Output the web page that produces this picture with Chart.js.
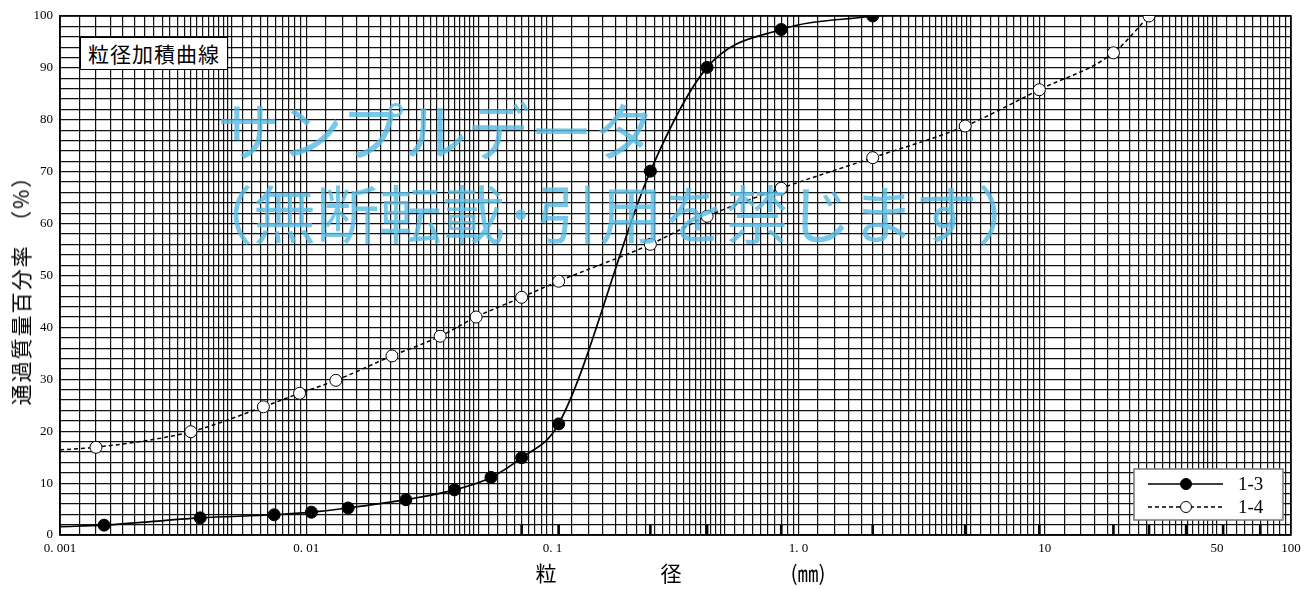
<!DOCTYPE html>
<html>
<head>
<meta charset="utf-8">
<script src="https://cdn.jsdelivr.net/npm/chart.js@4.4.0/dist/chart.umd.min.js"></script>
<style>
  html, body { margin: 0; padding: 0; background: #fff; }
  #wrap { position: relative; width: 1314px; height: 589px; overflow: hidden; }
  #grading { position: absolute; left: 0; top: 0; }
  .txt { position: absolute; white-space: nowrap; color: #000; font-family: "Noto Sans CJK JP", sans-serif; }
  #titleBox { left: 80px; top: 37px; width: 146px; height: 31px; border: 1px solid #000; background: #fff;
              font-size: 21px; line-height: 31px; text-align: center; letter-spacing: 1px; }
  #yTitle { left: 20px; top: 285px; font-size: 21px; letter-spacing: 2px; transform: translate(-50%, -50%) rotate(-90deg); }
  .xTitle { top: 560px; font-size: 21px; line-height: 24px; transform: translateX(-50%); }
  .mark { color: rgba(86, 186, 228, 0.8); font-size: 63px; line-height: 70px; pointer-events: none; }
</style>
</head>
<body>
<div id="wrap">
  <canvas id="grading" width="1314" height="589"></canvas>
  <div class="txt" id="titleBox">粒径加積曲線</div>
  <div class="txt" id="yTitle">通過質量百分率　（%）</div>
  <div class="txt xTitle" style="left:546px">粒</div>
  <div class="txt xTitle" style="left:671px">径</div>
  <div class="txt xTitle" style="left:808px">(㎜)</div>
  <div class="txt mark" style="left:217px; top:93px">サンプルデータ</div>
  <div class="txt mark" style="left:190px; top:176px">（無断転載･引用を禁じます）</div>
</div>
<script>
// sample 1-3 (first entry = where the curve leaves the left edge, no marker)
var sizes13 = [0.001, 0.00151, 0.00371, 0.00741, 0.0105, 0.0148, 0.0254, 0.0400, 0.0563, 0.075, 0.106, 0.25, 0.425, 0.85, 2.0];
var pass13  = [1.6, 1.9, 3.3, 3.9, 4.4, 5.2, 6.8, 8.7, 11.1, 14.9, 21.4, 70.1, 90.1, 97.4, 100];
// sample 1-4
var sizes14 = [0.001, 0.0014, 0.0034, 0.0067, 0.0094, 0.0132, 0.0223, 0.035, 0.049, 0.075, 0.106, 0.25, 0.425, 0.85, 2.0, 4.75, 9.5, 19, 26.5];
var pass14  = [16.4, 16.9, 19.9, 24.7, 27.3, 29.8, 34.5, 38.3, 42.0, 45.8, 48.9, 56.0, 61.4, 66.8, 72.7, 78.8, 85.8, 92.9, 100];
var seriesNames = ['1-3', '1-4'];

// sieve openings (mm), marked at the bottom of the grid
var sieves = [0.075, 0.106, 0.25, 0.425, 0.85, 2, 4.75, 9.5, 19, 26.5, 37.5, 53, 75];

// labelled x ticks
var xLabelValues = [0.001, 0.01, 0.1, 1, 10, 50, 100];
var xLabelTexts  = ['0. 001', '0. 01', '0. 1', '1. 0', '10', '50', '100'];

// grid lines in each decade: every 0.2 up to 5, then every 0.5
var gridMantissa = [];
for (var m = 10; m < 50; m += 2) gridMantissa.push(m / 10);
for (var m = 50; m < 100; m += 5) gridMantissa.push(m / 10);

function buildLogTicks() {
    var out = [];
    for (var e = -3; e <= 1; e++) {
        gridMantissa.forEach(function (mm) {
            out.push({ value: parseFloat((mm * Math.pow(10, e)).toPrecision(6)) });
        });
    }
    out.push({ value: 100 });
    return out;
}

function toPoints(xs, ys) {
    return xs.map(function (x, i) { return { x: x, y: ys[i] }; });
}

var extras = {
    id: 'extras',
    beforeDatasetsDraw: function (chart) {
        var c = chart.ctx, xs = chart.scales.x, a = chart.chartArea;
        c.save();
        c.strokeStyle = '#000';
        c.lineWidth = 2.6;
        sieves.forEach(function (s) {
            var px = xs.getPixelForValue(s);
            c.beginPath();
            c.moveTo(px, a.bottom - 10);
            c.lineTo(px, a.bottom);
            c.stroke();
        });
        c.lineWidth = 1.5;
        c.strokeRect(a.left, a.top, a.right - a.left, a.bottom - a.top);
        c.restore();
    },
    afterDatasetsDraw: function (chart) {
        var c = chart.ctx, a = chart.chartArea;
        var bx = a.right - 157, by = a.bottom - 66, bw = 149, bh = 51;
        c.save();
        c.fillStyle = '#fff';
        c.fillRect(bx, by, bw, bh);
        c.strokeStyle = '#777';
        c.lineWidth = 1.5;
        c.strokeRect(bx, by, bw, bh);
        chart.data.datasets.forEach(function (ds, i) {
            var ly = by + 15 + i * 23;
            c.strokeStyle = '#000';
            c.lineWidth = ds.borderWidth;
            c.setLineDash(ds.borderDash || []);
            c.beginPath();
            c.moveTo(bx + 14, ly);
            c.lineTo(bx + 89, ly);
            c.stroke();
            c.setLineDash([]);
            c.beginPath();
            c.arc(bx + 52, ly, 5.5, 0, Math.PI * 2);
            c.fillStyle = ds.pointBackgroundColor;
            c.fill();
            c.lineWidth = 1;
            c.stroke();
            c.fillStyle = '#000';
            c.font = '19px "Liberation Serif"';
            c.textBaseline = 'middle';
            c.fillText(ds.label, bx + 104, ly + 1);
        });
        c.restore();
    }
};

var config = {
    type: 'line',
    data: {
        datasets: [
            {
                label: seriesNames[0],
                data: toPoints(sizes13, pass13),
                borderColor: '#000',
                borderWidth: 1.7,
                pointRadius: function (ctx) { return ctx.dataIndex === 0 ? 0 : 6; },
                pointBackgroundColor: '#000',
                pointBorderColor: '#000',
                pointBorderWidth: 1,
                cubicInterpolationMode: 'monotone',
                fill: false
            },
            {
                label: seriesNames[1],
                data: toPoints(sizes14, pass14),
                borderColor: '#000',
                borderWidth: 1.5,
                borderDash: [4, 3],
                pointRadius: function (ctx) { return ctx.dataIndex === 0 ? 0 : 6; },
                pointBackgroundColor: '#fff',
                pointBorderColor: '#000',
                pointBorderWidth: 1,
                cubicInterpolationMode: 'monotone',
                fill: false
            }
        ]
    },
    options: {
        responsive: false,
        animation: false,
        devicePixelRatio: 1,
        layout: { padding: { left: 0, right: 23, top: 16, bottom: 0 } },
        plugins: {
            legend: { display: false },
            tooltip: { enabled: false }
        },
        scales: {
            x: {
                type: 'logarithmic',
                min: 0.001,
                max: 100,
                afterBuildTicks: function (scale) { scale.ticks = buildLogTicks(); },
                afterFit: function (scale) { scale.height = 54; },
                grid: { color: '#111', lineWidth: 1.2, drawTicks: false },
                border: { color: '#000', width: 1.5 },
                ticks: {
                    autoSkip: false,
                    maxRotation: 0,
                    padding: 6,
                    color: '#000',
                    font: { family: 'Liberation Serif', size: 13 },
                    callback: function (value) {
                        for (var i = 0; i < xLabelValues.length; i++) {
                            if (Math.abs(xLabelValues[i] - value) / xLabelValues[i] < 1e-6) return xLabelTexts[i];
                        }
                        return '';
                    }
                }
            },
            y: {
                min: 0,
                max: 100,
                afterFit: function (scale) { scale.width = 60; },
                grid: { color: '#111', lineWidth: 1.2, drawTicks: false },
                border: { color: '#000', width: 1.5 },
                ticks: {
                    stepSize: 2,
                    autoSkip: false,
                    padding: 7,
                    color: '#000',
                    font: { family: 'Liberation Serif', size: 13 },
                    callback: function (value) { return value % 10 === 0 ? String(value) : ''; }
                }
            }
        }
    },
    plugins: [extras]
};

var gradingChart = new Chart(document.querySelector('#grading').getContext('2d'), config);
</script>
</body>
</html>
